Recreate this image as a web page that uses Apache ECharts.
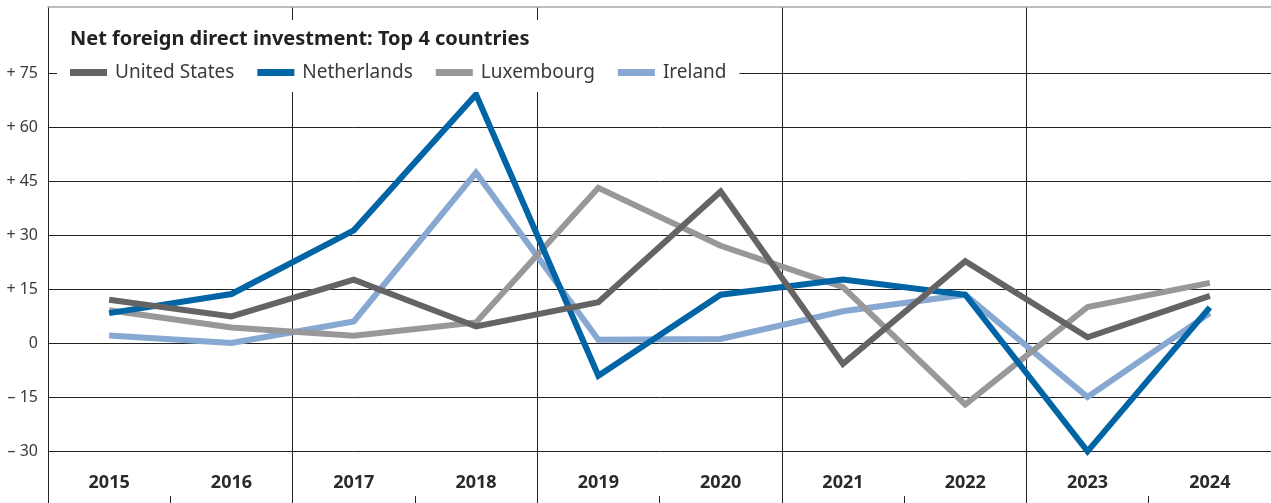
<!DOCTYPE html>
<html>
<head>
<meta charset="utf-8">
<script src="https://cdn.jsdelivr.net/npm/echarts@6/dist/echarts.min.js"></script>
<style>
html,body{margin:0;padding:0;background:#fff;overflow:hidden;}
#chart{width:1271px;height:507px;}
</style>
</head>
<body>
<div id="chart"></div>
<script>
const titleText = 'Net foreign direct investment: Top 4 countries';
const years = ['2015','2016','2017','2018','2019','2020','2021','2022','2023','2024'];
const unitedStates = [12.0, 7.4, 17.6, 4.6, 11.3, 42.1, -5.8, 22.7, 1.6, 13.1];
const netherlands  = [8.3, 13.6, 31.3, 69.0, -9.1, 13.4, 17.6, 13.4, -30.1, 9.9];
const luxembourg   = [9.1, 4.3, 2.0, 5.7, 43.1, 27.0, 15.5, -17.1, 10.0, 16.7];
const ireland      = [2.1, 0.0, 6.0, 47.3, 0.9, 1.1, 8.8, 13.4, -15.0, 8.3];
const seriesNames  = ['United States', 'Netherlands', 'Luxembourg', 'Ireland'];
const seriesColors = ['#646464', '#0064a5', '#98989a', '#86a8d1'];
const yTicks = [-30, -15, 0, 15, 30, 45, 60, 75];

function fmtY(v) {
  if (!yTicks.includes(Math.round(v * 1000) / 1000)) return '';
  if (v > 0) return '+ ' + v;
  if (v < 0) return '\u2013 ' + Math.abs(v);
  return '0';
}

const dataByName = {
  'United States': unitedStates,
  'Netherlands': netherlands,
  'Luxembourg': luxembourg,
  'Ireland': ireland
};
const drawOrder = ['Ireland', 'Luxembourg', 'Netherlands', 'United States'];

const chart = echarts.init(document.getElementById('chart'), null, {renderer: 'canvas'});
const FONT = '"Noto Sans", "Open Sans", sans-serif';
// split line colours: -45 .. 75 dark, 90 and top hidden
const gridColors = [];
for (let i = 0; i < 9; i++) gridColors.push('#222');
gridColors.push('rgba(0,0,0,0)');
gridColors.push('rgba(0,0,0,0)');

chart.setOption({
  animation: false,
  backgroundColor: '#fff',
  textStyle: {fontFamily: FONT},
  title: {
    text: titleText,
    left: 49,
    top: 20,
    padding: [9, 10, 6, 21],
    backgroundColor: '#fff',
    textStyle: {fontFamily: FONT, fontSize: 20, fontWeight: 'bold', color: '#222'}
  },
  legend: {
    data: seriesNames,
    left: 57,
    top: 53,
    padding: [10, 13, 10, 13],
    backgroundColor: '#fff',
    icon: 'rect',
    itemWidth: 37,
    itemHeight: 7,
    itemGap: 23,
    textStyle: {fontFamily: FONT, fontSize: 19, color: '#3a3a3a', padding: [0, 0, 0, 3]}
  },
  grid: {left: 48, right: 0, top: 7, bottom: 2, containLabel: false},
  xAxis: [{
    type: 'category',
    data: years,
    boundaryGap: true,
    axisLine: {show: false, onZero: false},
    axisTick: {
      show: true, inside: true, length: 9,
      interval: function (i) { return i % 2 === 1; },
      lineStyle: {color: '#222', width: 1}
    },
    splitLine: {
      show: true,
      interval: function (i) { return i % 2 === 0 && i > 0; },
      lineStyle: {color: '#222', width: 1}
    },
    axisLabel: {
      inside: true, margin: 13,
      fontFamily: FONT, fontSize: 18, fontWeight: 'bold', color: '#2a2a2a'
    }
  }, {
    type: 'category',
    data: years,
    position: 'top',
    boundaryGap: true,
    axisLine: {show: true, onZero: false, lineStyle: {color: '#a8a8a8', width: 1.5}},
    axisTick: {show: false},
    axisLabel: {show: false},
    splitLine: {show: false}
  }],
  yAxis: {
    type: 'value',
    min: -45,
    max: 93.33,
    interval: 15,
    axisLine: {show: true, lineStyle: {color: '#222', width: 1}},
    axisTick: {show: false},
    splitLine: {show: true, lineStyle: {color: gridColors, width: 1}},
    axisLabel: {
      formatter: fmtY, margin: 10,
      fontFamily: FONT, fontSize: 16, color: '#3a3a3a'
    }
  },
  series: drawOrder.map(function (name) {
    const idx = seriesNames.indexOf(name);
    return {
      name: name,
      type: 'line',
      xAxisIndex: 0,
      data: dataByName[name],
      symbol: 'none',
      smooth: false,
      lineStyle: {width: 6, color: seriesColors[idx], cap: 'butt', join: 'miter'},
      itemStyle: {color: seriesColors[idx]},
      emphasis: {disabled: true}
    };
  })
});
</script>
</body>
</html>
